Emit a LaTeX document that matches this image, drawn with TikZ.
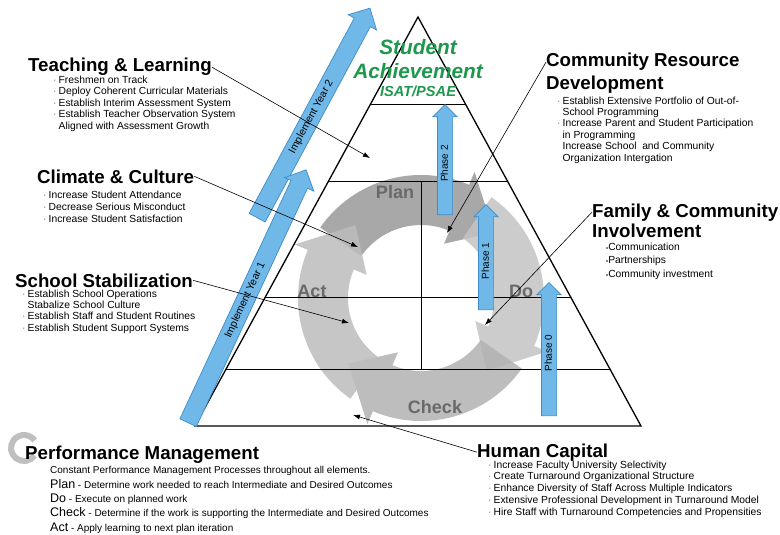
\documentclass[tikz,border=0pt]{standalone}
\usepackage{fontspec}
\setmainfont{Liberation Sans}
\usetikzlibrary{shapes.arrows,arrows.meta,calc}

\definecolor{arrowblue}{RGB}{112,184,232}
\definecolor{arrowedge}{RGB}{62,140,202}
\definecolor{achgreen}{RGB}{30,152,76}
\definecolor{stagegray}{RGB}{105,105,105}

% list bullets
\newcommand{\itm}{\makebox[5.5pt][l]{\textcolor{black!55}{·}}}
\newcommand{\noitm}{\hspace*{5.5pt}}
\newcommand{\dotbul}{{\fontsize{6}{6}\selectfont •}}
\newcommand{\stagename}[1]{{\fontsize{12.5}{14.3}\selectfont #1}}

% one curved arrow of the cycle: start, end of body, tip, fill
\newcommand{\cyclearrow}[4]{%
  \fill[#4, fill opacity=.85]
    ($(cyc)+(#1:123)$) arc[start angle=#1, end angle=#2, radius=123]
    -- ($(cyc)+(#2:137)$) -- ($(cyc)+(#3:98)$) -- ($(cyc)+(#2:59)$)
    -- ($(cyc)+(#2:73)$) arc[start angle=#2, end angle=#1, radius=73] -- cycle;}

\begin{document}
\begin{tikzpicture}[x=1pt, y=-1pt,
  title/.style={font=\fontsize{18.7}{22}\selectfont\bfseries, inner sep=0pt, anchor=base west},
  items/.style={font=\fontsize{10.3}{11.5}\selectfont, inner sep=0pt, anchor=north west, align=left},
  leader/.style={line width=.6pt, -{Latex[length=7pt,width=5pt]}},
  phasearrow/.style={single arrow, draw=arrowedge, fill=arrowblue, line width=.7pt,
    anchor=tail, font=\fontsize{10}{10}\selectfont, text height=7.5pt, text depth=2pt,
    inner xsep=2pt, inner ysep=2.5pt, single arrow head extend=4.5pt, minimum width=24pt},
  yeararrow/.style={phasearrow, font=\fontsize{10.5}{10}\selectfont, inner ysep=4pt,
    single arrow head extend=7pt, minimum width=32pt},
  stage/.style={font=\fontsize{18}{18}\selectfont\bfseries, text=stagegray, inner sep=0pt, anchor=base},
  goal/.style={font=\fontsize{20.8}{20}\selectfont\bfseries\itshape, text=achgreen, inner sep=0pt, anchor=base}]

\useasboundingbox (0,0) rectangle (780,535);
\fill[white] (0,0) rectangle (780,535);

% PDCA ring
\coordinate (cyc) at (421,298);
\cyclearrow{215}{293}{318}{black!40}
\cyclearrow{305}{383}{408}{black!23}
\cyclearrow{35}{113}{138}{black!30}
\cyclearrow{125}{203}{228}{black!26}

\node[stage] (plan) at (395,198) {Plan};
\node[stage] (act) at (312,297) {Act};
\node[stage] (do) at (521,297) {Do};
\node[stage] (check) at (435,413) {Check};

% pyramid
\coordinate (apex) at (418,17);
\coordinate (bl) at (195,426);
\coordinate (br) at (641,426);
\draw[line width=1.3pt] (apex) -- (bl) -- (br) -- cycle;
\foreach \t in {0.215,0.403,0.687,0.861}
  \draw[line width=1pt] ($(apex)!\t!(bl)$) -- ($(apex)!\t!(br)$);
\draw[line width=1pt] (421,182) -- (421,369);

\node[goal] (stud) at (418,55) {Student};
\node[goal] (ach) at (418,78) {Achievement};
\node[goal, font=\fontsize{14.6}{14}\selectfont\bfseries\itshape] (isat) at (418,97) {ISAT/PSAE};

% phases and years
\node[phasearrow, rotate=90, minimum height=110pt] (ph2) at (445,215) {Phase 2};
\node[phasearrow, rotate=90, minimum height=105pt] (ph1) at (486,310) {Phase 1};
\node[phasearrow, rotate=90, minimum height=133pt] (ph0) at (549,416) {Phase 0};
\node[yeararrow, rotate=61.7, minimum height=238pt] (yr2) at (257,218) {Implement Year 2};
\node[yeararrow, rotate=65, minimum height=279pt] (yr1) at (188,423) {Implement Year 1};

% left side
\node[title] (teach) at (28,72) {Teaching \& Learning};
\node[items] (teachlist) at (53,75.5) {\itm Freshmen on Track\\
  \itm Deploy Coherent Curricular Materials\\
  \itm Establish Interim Assessment System\\
  \itm Establish Teacher Observation System\\
  \noitm Aligned with Assessment Growth};

\node[title] (climate) at (37,183) {Climate \& Culture};
\node[items, font=\fontsize{10.3}{12}\selectfont] (climatelist) at (43,190.5) {\itm Increase Student Attendance\\
  \itm Decrease Serious Misconduct\\
  \itm Increase Student Satisfaction};

\node[title] (stab) at (15,287) {School Stabilization};
\node[items, font=\fontsize{10.3}{11.3}\selectfont] (stablist) at (22,289.5) {\itm Establish School Operations\\
  \noitm Stabalize School Culture\\
  \itm Establish Staff and Student Routines\\
  \itm Establish Student Support Systems};

% right side
\node[title] (crd) at (546,67) {Community Resource};
\node[title] (crd2) at (546,89) {Development};
\node[items, font=\fontsize{10.3}{11.4}\selectfont] (crdlist) at (557,96.5) {\itm Establish Extensive Portfolio of Out-of-\\
  \noitm School Programming\\
  \itm Increase Parent and Student Participation\\
  \noitm in Programming\\
  \noitm Increase School\ \ and Community\\
  \noitm Organization Intergation};

\node[title] (fci) at (592,217) {Family \& Community};
\node[title] (fci2) at (592,237) {Involvement};
\node[items, font=\fontsize{10.3}{13.5}\selectfont] (fcilist) at (606,242.5) {\dotbul Communication\\
  \dotbul Partnerships\\
  \dotbul Community investment};

% bottom
\draw[line width=6pt, black!25] (24,448) ++(35:13) arc[start angle=35, end angle=325, radius=13];
\node[title] (perf) at (25,459) {Performance Management};
\node[items, font=\fontsize{10}{14.3}\selectfont] (perflist) at (50,466.5) {Constant Performance Management Processes throughout all elements.\\
  \stagename{Plan} - Determine work needed to reach Intermediate and Desired Outcomes\\
  \stagename{Do} - Execute on planned work\\
  \stagename{Check} - Determine if the work is supporting the Intermediate and Desired Outcomes\\
  \stagename{Act} - Apply learning to next plan iteration};

\node[title] (hc) at (477,457) {Human Capital};
\node[items, font=\fontsize{10.3}{11.75}\selectfont] (hclist) at (488,460.5) {\itm Increase Faculty University Selectivity\\
  \itm Create Turnaround Organizational Structure\\
  \itm Enhance Diversity of Staff Across Multiple Indicators\\
  \itm Extensive Professional Development in Turnaround Model\\
  \itm Hire Staff with Turnaround Competencies and Propensities};

% leaders
\coordinate (teachtip) at (370,158);
\coordinate (climatetip) at (358,247);
\coordinate (stabtip) at (349,323);
\coordinate (crdtip) at (447,233);
\coordinate (fcitip) at (485,325);
\coordinate (hctip) at (353,415);
\draw[leader] (teach.east) -- (teachtip);
\draw[leader] (climate.east) -- (climatetip);
\draw[leader] (stab.east) -- (stabtip);
\draw[leader] (crd.west) -- (crdtip);
\draw[leader] (fci.west) -- (fcitip);
\draw[leader] (hc.west) -- (hctip);
\end{tikzpicture}
\end{document}
